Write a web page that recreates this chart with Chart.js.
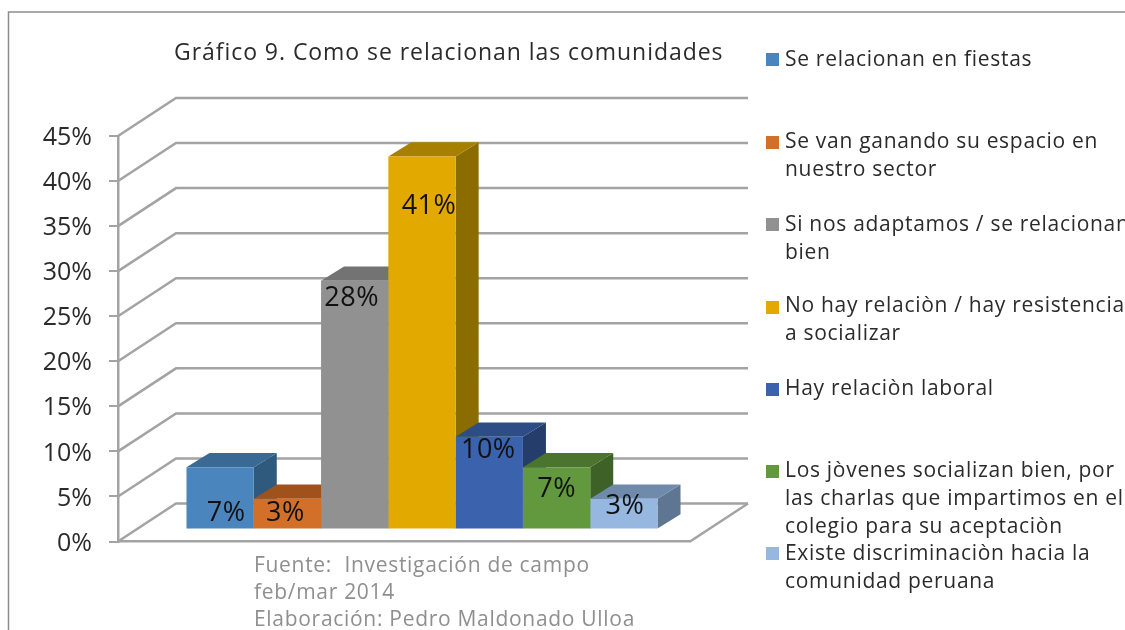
<!DOCTYPE html>
<html lang="es">
<head>
<meta charset="utf-8">
<style>html,body{margin:0;padding:0;background:#fff;overflow:hidden}canvas{display:block}</style>
<script src="https://cdn.jsdelivr.net/npm/chart.js@4/dist/chart.umd.min.js"></script>
</head>
<body>
<canvas id="c" width="1125" height="630"></canvas>
<script>
const titleText = "Gráfico 9. Como se relacionan las comunidades";
const seriesNames = [
  ["Se relacionan en fiestas"],
  ["Se van ganando su espacio en", "nuestro sector"],
  ["Si nos adaptamos / se relacionan", "bien"],
  ["No hay relaciòn / hay resistencia", "a socializar"],
  ["Hay relaciòn laboral"],
  ["Los jòvenes socializan bien, por", "las charlas que impartimos en el", "colegio para su aceptaciòn"],
  ["Existe discriminaciòn hacia la", "comunidad peruana"]
];
const seriesValues = [6.9, 3.4, 27.6, 41.4, 10.3, 6.9, 3.4];
const sourceLines = ["Fuente:  Investigación de campo", "feb/mar 2014", "Elaboración: Pedro Maldonado Ulloa"];
const frontColors = ["#4a86bd", "#d2702a", "#919191", "#e2aa00", "#3a62ad", "#62993e", "#95b7e0"];
const topColors   = ["#3a6a94", "#a0521d", "#737373", "#a88000", "#2e4d86", "#4b752f", "#6f8aab"];
const sideColors  = ["#2f5a7e", "#a0521d", "#636363", "#8a6c00", "#243d6b", "#3e6128", "#5f7692"];

const FONT = '"Open Sans", sans-serif';
const WALL = {dx: 58, dy: -38};
const BAR_SHIFT = {dx: 18, dy: -12};
const BAR_DEPTH = {dx: 23, dy: -14.3};
const LABEL_NUDGE = [[6,46],[-2,14],[-3,18],[7,50],[-1,14],[0,22],[1,7]];
const LEGEND_ROWS = [[60],[142,170],[225,253],[306,334],[389],[471,499,527],[554,582]];
const LEGEND_SWATCH_Y = [53,136,218,301,383,465,547];

function put(ctx, str, x, y, font, color, spacing, align) {
  ctx.font = font;
  ctx.fillStyle = color;
  ctx.textAlign = align || "left";
  ctx.textBaseline = "middle";
  ctx.letterSpacing = (spacing || 0) + "px";
  ctx.fillText(str, x, y);
  ctx.letterSpacing = "0px";
}

const scene = {
  id: "scene",
  afterLayout(chart) {
    const s = chart.scales.y, orig = s._computeLabelItems.bind(s);
    s._computeLabelItems = area => orig(area).map(it => ({
      ...it,
      options: {...it.options, translation: [it.options.translation[0], it.options.translation[1] + 2]}
    }));
  },
  beforeDraw(chart) {
    const c = chart.ctx;
    c.save();
    c.fillStyle = "#fff";
    c.fillRect(0, 0, 1125, 630);
    c.strokeStyle = "#8c8c8c";
    c.lineWidth = 1.5;
    c.beginPath();
    c.moveTo(8.5, 630); c.lineTo(8.5, 12); c.lineTo(1125, 12);
    c.stroke();
    put(c, titleText, 174, 53, "23px " + FONT, "#2b2b2b", 0.95);
    seriesNames.forEach((lines, i) => {
      c.fillStyle = frontColors[i];
      c.fillRect(766, LEGEND_SWATCH_Y[i], 13, 13);
      lines.forEach((t, j) => put(c, t, 785, LEGEND_ROWS[i][j], "21px " + FONT, "#2b2b2b", 0.7));
    });
    sourceLines.forEach((t, j) => put(c, t, 254, 566 + j * 27, "21px " + FONT, "#8f8f8f", 0.7));
    c.restore();
  },
  beforeDatasetsDraw(chart) {
    const c = chart.ctx, y = chart.scales.y, a = chart.chartArea;
    c.save();
    c.strokeStyle = "#a3a3a3";
    c.lineWidth = 2.5;
    y.ticks.forEach(t => {
      const py = y.getPixelForValue(t.value);
      c.beginPath();
      c.moveTo(a.left, py);
      c.lineTo(a.left + WALL.dx, py + WALL.dy);
      c.lineTo(a.right + WALL.dx, py + WALL.dy);
      c.stroke();
    });
    const py0 = y.getPixelForValue(0);
    c.beginPath();
    c.moveTo(a.right, py0);
    c.lineTo(a.right + WALL.dx, py0 + WALL.dy);
    c.stroke();
    c.restore();

    c.save();
    c.translate(BAR_SHIFT.dx, BAR_SHIFT.dy);
    seriesValues.forEach((v, i) => {
      const b = chart.getDatasetMeta(i).data[0];
      const L = b.x - b.width / 2, R = b.x + b.width / 2, T = b.y, B = b.base;
      c.fillStyle = sideColors[i];
      c.beginPath();
      c.moveTo(R, T); c.lineTo(R + BAR_DEPTH.dx, T + BAR_DEPTH.dy);
      c.lineTo(R + BAR_DEPTH.dx, B + BAR_DEPTH.dy); c.lineTo(R, B);
      c.closePath(); c.fill();
      c.fillStyle = topColors[i];
      c.beginPath();
      c.moveTo(L, T); c.lineTo(L + BAR_DEPTH.dx, T + BAR_DEPTH.dy);
      c.lineTo(R + BAR_DEPTH.dx, T + BAR_DEPTH.dy); c.lineTo(R, T);
      c.closePath(); c.fill();
    });
  },
  afterDatasetsDraw(chart) {
    const c = chart.ctx;
    c.restore();
    seriesValues.forEach((v, i) => {
      const b = chart.getDatasetMeta(i).data[0];
      put(c, Math.round(v) + "%", b.x + BAR_SHIFT.dx + LABEL_NUDGE[i][0], b.y + BAR_SHIFT.dy + LABEL_NUDGE[i][1],
        "27px " + FONT, "#111", 0.5, "center");
    });
  }
};

new Chart(document.getElementById("c"), {
  type: "bar",
  data: {
    labels: [""],
    datasets: seriesNames.map((n, i) => ({
      label: n.join(" "),
      data: [seriesValues[i]],
      backgroundColor: frontColors[i],
      borderWidth: 0,
      clip: false
    }))
  },
  options: {
    responsive: false,
    animation: false,
    layout: {padding: {top: 136, right: 435, bottom: 88.5, left: 0}},
    categoryPercentage: 0.8235,
    barPercentage: 1,
    plugins: {legend: {display: false}, title: {display: false}, tooltip: {enabled: false}},
    scales: {
      x: {
        grid: {display: false},
        border: {display: true, color: "#a3a3a3", width: 2.5},
        ticks: {display: false},
        afterFit(s) { s.height = 0; }
      },
      y: {
        min: 0, max: 45,
        grid: {drawOnChartArea: false, drawTicks: true, tickLength: 9, color: "#a3a3a3", lineWidth: 2},
        border: {display: true, color: "#a3a3a3", width: 2.5},
        ticks: {
          stepSize: 5,
          padding: 17,
          color: "#2b2b2b",
          font: {family: "Open Sans", size: 25},
          callback: v => v + "%"
        },
        afterFit(s) { s.width = 118; }
      }
    }
  },
  plugins: [scene]
});
</script>
</body>
</html>
